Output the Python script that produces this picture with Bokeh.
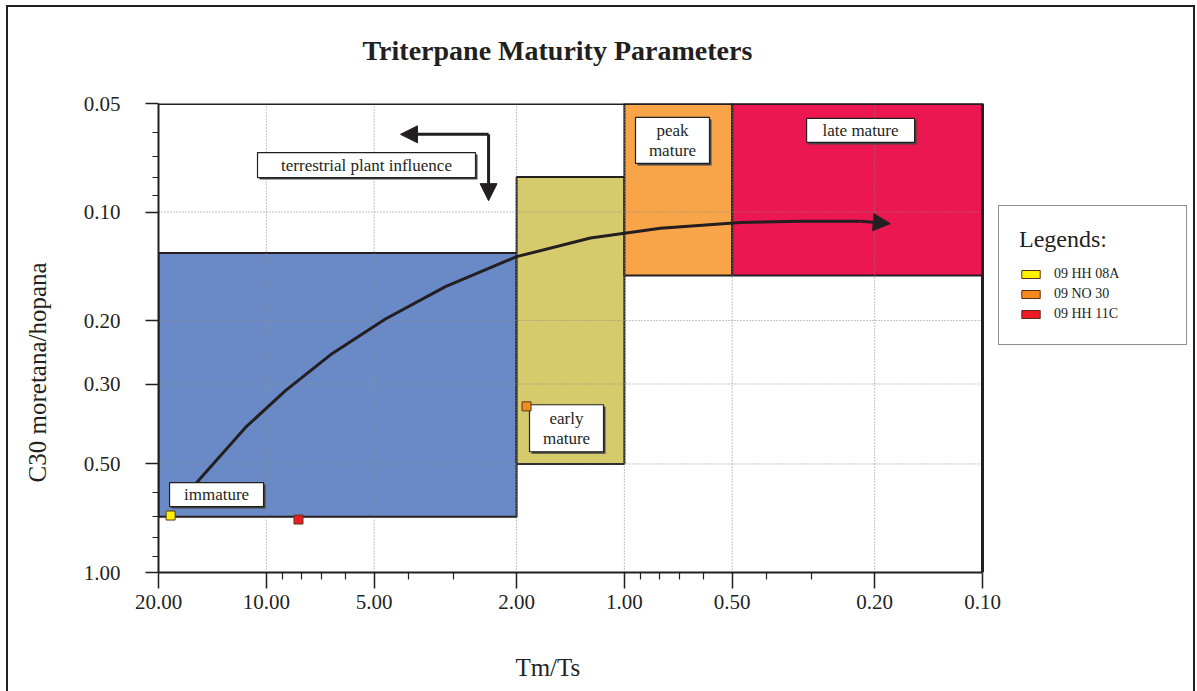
import math
from bokeh.plotting import figure
from bokeh.models import (Range1d, FixedTicker, PrintfTickFormatter, Arrow, NormalHead,
                          Legend, LegendItem, Title)
from bokeh.layouts import column
from bokeh.embed import file_html
from bokeh.resources import INLINE
from bokeh.core.properties import value

# ---------------- data ----------------
x_ticks = [20, 10, 5, 2, 1, 0.5, 0.2, 0.1]
x_minor = [9, 8, 7, 6, 4, 3, 0.9, 0.8, 0.7, 0.6, 0.4, 0.3]
y_ticks = [0.05, 0.1, 0.2, 0.3, 0.5, 1.0]
y_minor = [0.06, 0.07, 0.08, 0.09, 0.6, 0.7, 0.8, 0.9]
x_grid = [10, 5, 2, 1, 0.5, 0.2]
y_grid = [0.1, 0.2, 0.3, 0.5]
X_MAX, X_MIN = 20, 0.1
Y_MAX, Y_MIN = 1.0, 0.05

zone_names = ["immature", "early\nmature", "peak\nmature", "late mature"]
zone_tmts_hi = [20, 2, 1, 0.5]
zone_tmts_lo = [2, 1, 0.5, 0.1]
zone_c30_lo = [0.13, 0.08, 0.05, 0.05]
zone_c30_hi = [0.70, 0.50, 0.15, 0.15]
zone_colors = ["#6A8AC7", "#D6CB6C", "#F8A54A", "#EC1650"]
# label box anchors (data coords) and sizes (px)
zone_label_x = [13.77, 1.451, 0.734, 0.219]
zone_label_y = [0.608, 0.398, 0.0633, 0.0594]
zone_label_w = [94, 74, 74, 108]
zone_label_h = [24, 47, 46, 24]

note_text = ["terrestrial plant influence"]
note_x = [5.25]
note_y = [0.0741]
note_w = [218]
note_h = [25]

trend_tmts = [16.07, 11.43, 8.84, 6.62, 4.65, 3.16, 2.0, 1.244, 0.793, 0.474, 0.322, 0.219]
trend_c30 = [0.580, 0.396, 0.313, 0.249, 0.198, 0.161, 0.133, 0.118, 0.111, 0.107, 0.106, 0.106]
trend_end = (0.181, 0.1077)

terr_corner = (2.395, 0.0609)
terr_left_end = (4.22, 0.0609)
terr_down_end = (2.395, 0.093)

sample_names = ["09 HH 08A", "09 NO 30", "09 HH 11C"]
sample_tmts = [18.5, 1.876, 8.13]
sample_c30 = [0.695, 0.346, 0.713]
sample_colors = ["#FFF200", "#F58A1F", "#ED1C24"]

INK = "#231f20"
FONT = "Liberation Serif"
NBSP = "\u00a0"

W, H = 1185, 684
ML, MT, MB = 150, 96, 119
AXIS_W = 824                     # pixel width of the 20 .. 0.1 data span
frame_w = W - ML
frame_h = H - MT - MB
pdx = AXIS_W / math.log10(X_MAX / X_MIN)
pdy = frame_h / math.log10(Y_MAX / Y_MIN)
x_end = X_MIN / 10 ** ((frame_w - AXIS_W) / pdx)   # frame continues right for the legend


def shift(x, y, dx, dy):
    # shift a data point by dx px right and dy px down (both axes reversed log)
    return x * 10 ** (-dx / pdx), y * 10 ** (dy / pdy)


p = figure(width=W, height=H, x_axis_type="log", y_axis_type="log",
           x_range=Range1d(X_MAX, x_end), y_range=Range1d(Y_MAX, Y_MIN),
           output_backend="svg", toolbar_location=None, title_location=None,
           min_border_left=ML, min_border_right=0, min_border_top=MT, min_border_bottom=MB)

# title: a spacer next to the frame, then the title itself
p.add_layout(Title(text=NBSP, text_font_size="1px", standoff=35), "above")
p.add_layout(Title(text="Triterpane Maturity Parameters", text_font=FONT, text_font_size="28px",
                   text_font_style="bold", text_color=INK, align="left", offset=204, standoff=0),
             "above")

p.xgrid.visible = False
p.ygrid.visible = False
p.outline_line_color = None
p.background_fill_color = "white"
p.border_fill_color = "white"

# zones
p.quad(left=zone_tmts_hi, right=zone_tmts_lo, bottom=zone_c30_hi, top=zone_c30_lo,
       fill_color=zone_colors, line_color=INK, line_width=2)

# grid on top of zones
p.segment(x0=x_grid, x1=x_grid, y0=[Y_MAX] * len(x_grid), y1=[Y_MIN] * len(x_grid),
          line_color="#8a8a8a", line_width=1, line_dash="1 2")
p.segment(x0=[X_MAX] * len(y_grid), x1=[X_MIN] * len(y_grid), y0=y_grid, y1=y_grid,
          line_color="#8a8a8a", line_width=1, line_dash="1 2")

# plot-area border (top and right)
p.segment(x0=[X_MAX, X_MIN], x1=[X_MIN, X_MIN], y0=[Y_MIN, Y_MAX], y1=[Y_MIN, Y_MIN],
          line_color=INK, line_width=3)

# trend curve
p.line(trend_tmts, trend_c30, line_color=INK, line_width=3)
p.add_layout(Arrow(end=NormalHead(size=17, fill_color=INK, line_color=INK),
                   x_start=trend_tmts[-1], y_start=trend_c30[-1],
                   x_end=trend_end[0], y_end=trend_end[1],
                   line_color=INK, line_width=3))

# terrestrial arrows
for end in (terr_left_end, terr_down_end):
    p.add_layout(Arrow(end=NormalHead(size=17, fill_color=INK, line_color=INK),
                       x_start=terr_corner[0], y_start=terr_corner[1],
                       x_end=end[0], y_end=end[1], line_color=INK, line_width=3))

# label boxes
bx = zone_label_x + note_x
by = zone_label_y + note_y
bw = zone_label_w + note_w
bh = zone_label_h + note_h
btxt = zone_names + note_text
sx, sy = zip(*[shift(x, y, 2, 2) for x, y in zip(bx, by)])
p.rect(x=list(sx), y=list(sy), width=bw, height=bh, width_units="screen", height_units="screen",
       fill_color="#444444", line_color=None)
p.rect(x=bx, y=by, width=bw, height=bh, width_units="screen", height_units="screen",
       fill_color="white", line_color=INK, line_width=1.2)
p.text(x=bx, y=by, text=btxt, text_font=value(FONT), text_font_size="17px",
       text_align="center", text_baseline="middle", text_line_height=1.05, text_color=INK)

# legend proxies (zero-size quads at the sample positions, hidden under markers)
items = []
for n, c, xs, ys in zip(sample_names, sample_colors, sample_tmts, sample_c30):
    r = p.quad(left=[xs], right=[xs], top=[ys], bottom=[ys], fill_color=c,
               line_color="#5a2a1a", line_width=1)
    items.append(LegendItem(label=n, renderers=[r]))

# samples
p.scatter(sample_tmts, sample_c30, marker="square", size=9, fill_color=sample_colors,
          line_color="#5a3a1a", line_width=1)

legend = Legend(items=items, location=(840, 227), title="Legends:",
                title_text_font=FONT, title_text_font_size="24px", title_text_font_style="normal",
                title_text_color=INK, title_standoff=11,
                label_text_font=FONT, label_text_font_size="14px", label_text_color=INK,
                glyph_width=23, glyph_height=10, label_standoff=12, label_width=112, label_height=20,
                spacing=0, padding=20, border_line_color="#222222", border_line_width=1.5,
                background_fill_color="white", background_fill_alpha=1.0)
p.add_layout(legend, "center")

# axes
for ax in (p.xaxis[0], p.yaxis[0]):
    ax.axis_line_color = INK
    ax.axis_line_width = 2
    ax.major_tick_line_color = INK
    ax.major_tick_line_width = 1.5
    ax.minor_tick_line_color = INK
    ax.minor_tick_line_width = 1.2
    ax.major_tick_in = 0
    ax.minor_tick_in = 0
    ax.major_label_text_font = FONT
    ax.major_label_text_font_size = "21px"
    ax.major_label_text_color = INK
    ax.axis_label_text_font = FONT
    ax.axis_label_text_font_size = "25px"
    ax.axis_label_text_font_style = "normal"
    ax.axis_label_text_color = INK
    ax.formatter = PrintfTickFormatter(format="%.2f")

p.xaxis.bounds = (X_MIN, X_MAX)
p.xaxis.ticker = FixedTicker(ticks=x_ticks, minor_ticks=x_minor)
p.yaxis.ticker = FixedTicker(ticks=y_ticks, minor_ticks=y_minor)
p.xaxis.major_tick_out = 16
p.xaxis.minor_tick_out = 7
p.yaxis.major_tick_out = 13
p.yaxis.minor_tick_out = 6
p.xaxis.major_label_standoff = 6
p.yaxis.major_label_standoff = 25
# trailing no-break spaces shift the centred labels to where the reference has them
p.xaxis.axis_label = "Tm/Ts" + NBSP * 41
p.yaxis.axis_label = "C30 moretana/hopana" + NBSP * 11
p.xaxis.axis_label_standoff = 42
p.yaxis.axis_label_standoff = 30

BORDER = "2px solid #231f20"
layout = column(p, styles={"border-top": BORDER, "border-left": BORDER, "border-right": BORDER,
                           "margin-left": "6px", "margin-top": "5px"})

open("out.html", "w").write(file_html(layout, INLINE))
